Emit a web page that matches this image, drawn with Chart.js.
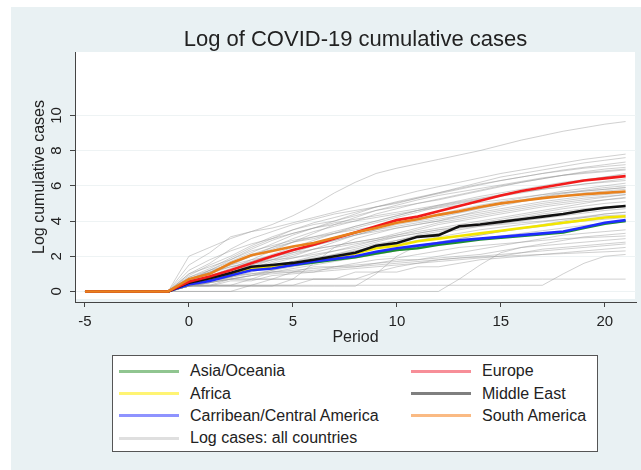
<!DOCTYPE html>
<html>
<head>
  <meta charset="utf-8">
  <title>Log of COVID-19 cumulative cases</title>
  <script src="https://cdn.jsdelivr.net/npm/chart.js"></script>
  <style>
    body { margin: 0; background: #ffffff; font-family: "Liberation Sans", Arial, sans-serif; }
    #frame { position: absolute; left: 11px; top: 7px; width: 630px; height: 463px; background: #e9f1f3; }
    #frame canvas { position: absolute; left: 0; top: 0; }
    #legend {
      position: absolute; left: 101px; top: 348px; width: 486px; height: 97px;
      box-sizing: border-box; background: #ffffff; border: 1px solid #555555;
      padding: 4px 0 0 6px;
      display: grid; grid-template-columns: 292px auto; grid-auto-rows: 22.4px;
    }
    .item { display: flex; align-items: center; font-size: 16px; color: #222222; white-space: nowrap; }
    .swatch { display: inline-block; width: 60px; height: 3px; margin-right: 11px; }
  </style>
</head>
<body>
  <div id="frame">
    <canvas id="myChart" width="630" height="463"></canvas>
    <div id="legend"></div>
  </div>

  <script>
    // periods (x values)
    var periods = [-5,-4,-3,-2,-1,0,1,2,3,4,5,6,7,8,9,10,11,12,13,14,15,16,17,18,19,20,21];
    var xTicks = [-5, 0, 5, 10, 15, 20];
    var yTicks = [0, 2, 4, 6, 8, 10];

    // regional averages
    var asiaOceania  = [0,0,0,0, 0,0.45,0.65,0.9,1.3,1.35,1.5,1.65,1.8,1.95,2.15,2.35,2.45,2.65,2.8,2.95,3.05,3.15,3.25,3.35,3.6,3.85,4.0];
    var africa       = [0,0,0,0, 0,0.4,0.65,0.9,1.3,1.4,1.6,1.75,1.95,2.15,2.45,2.6,2.85,3.0,3.15,3.3,3.45,3.6,3.75,3.9,4.05,4.2,4.27];
    var carribean    = [0,0,0,0, 0,0.4,0.6,0.9,1.2,1.3,1.5,1.7,1.85,2.0,2.25,2.45,2.6,2.75,2.9,3.0,3.1,3.2,3.3,3.4,3.65,3.9,4.05];
    var europe       = [0,0,0,0, 0,0.55,0.85,1.2,1.6,2.0,2.35,2.65,3.0,3.35,3.7,4.05,4.25,4.55,4.85,5.15,5.45,5.7,5.9,6.1,6.3,6.42,6.55];
    var middleEast   = [0,0,0,0, 0,0.5,0.75,1.05,1.4,1.5,1.62,1.8,2.0,2.2,2.6,2.75,3.1,3.2,3.7,3.8,3.95,4.1,4.25,4.4,4.6,4.75,4.85];
    var southAmerica = [0,0,0,0, 0,0.7,1.0,1.6,2.05,2.3,2.55,2.75,3.05,3.35,3.6,3.9,4.1,4.35,4.55,4.8,5.0,5.15,5.3,5.42,5.52,5.6,5.68];

    // log cases, individual countries
    var countries = [
      [0,0,0,0, 0,2.0,2.5,3.0,3.4,3.8,4.3,4.9,5.6,6.2,6.7,7.0,7.25,7.5,7.75,8.0,8.3,8.6,8.85,9.1,9.3,9.5,9.65],
      [0,0,0,0, 0,1.5,2.2,3.1,3.4,3.6,3.9,4.2,4.5,4.8,5.1,5.4,5.7,5.95,6.2,6.45,6.7,6.9,7.1,7.3,7.5,7.65,7.8],
      [0,0,0,0, 0,1.0,1.6,2.4,3.0,3.4,3.8,4.1,4.4,4.6,4.8,5.0,5.3,5.6,5.9,6.2,6.5,6.7,6.9,7.1,7.3,7.45,7.6],
      [0,0,0,0, 0,0.8,1.3,1.9,2.5,3.0,3.5,3.9,4.2,4.5,4.8,5.05,5.3,5.55,5.8,6.05,6.3,6.5,6.7,6.9,7.05,7.2,7.35],
      [0,0,0,0, 0,0.7,1.2,1.7,2.2,2.7,3.2,3.6,4.0,4.4,4.8,5.1,5.35,5.6,5.85,6.1,6.3,6.5,6.7,6.85,7.0,7.1,7.2],
      [0,0,0,0, 0,0.9,1.5,2.0,2.6,3.1,3.5,3.8,4.0,4.3,4.6,4.8,5.0,5.2,5.45,5.7,5.95,6.2,6.4,6.6,6.8,6.95,7.05],
      [0,0,0,0, 0,0.6,1.1,1.6,2.0,2.5,3.0,3.4,3.7,4.0,4.4,4.7,5.0,5.25,5.5,5.75,6.0,6.2,6.4,6.6,6.75,6.85,6.95],
      [0,0,0,0, 0,0.5,0.9,1.3,1.8,2.3,2.8,3.3,3.8,4.2,4.6,4.9,5.2,5.45,5.65,5.85,6.05,6.25,6.45,6.6,6.7,6.8,6.9],
      [0,0,0,0, 0,1.2,1.8,2.3,2.7,3.0,3.3,3.6,3.9,4.1,4.3,4.5,4.7,4.9,5.1,5.3,5.5,5.7,5.9,6.1,6.3,6.5,6.7],
      [0,0,0,0, 0,0.6,1.0,1.5,2.0,2.4,2.8,3.1,3.4,3.7,4.0,4.3,4.6,4.9,5.15,5.4,5.6,5.8,6.0,6.2,6.35,6.5,6.6],
      [0,0,0,0, 0,0.7,1.1,1.6,2.1,2.5,2.8,3.0,3.3,3.6,3.9,4.2,4.5,4.8,5.0,5.2,5.4,5.6,5.8,5.95,6.1,6.25,6.4],
      [0,0,0,0, 0,0.4,0.8,1.2,1.7,2.1,2.5,2.9,3.3,3.7,4.0,4.3,4.6,4.85,5.05,5.25,5.45,5.65,5.8,5.95,6.1,6.2,6.3],
      [0,0,0,0, 0,0.5,0.8,1.1,1.5,1.9,2.3,2.7,3.0,3.3,3.6,3.9,4.15,4.4,4.65,4.9,5.1,5.3,5.5,5.7,5.85,6.0,6.15],
      [0,0,0,0, 0,1.0,1.4,1.8,2.3,2.6,2.9,3.1,3.3,3.5,3.7,3.9,4.1,4.3,4.5,4.75,5.0,5.2,5.4,5.6,5.75,5.9,6.0],
      [0,0,0,0, 0,0.4,0.7,1.0,1.4,1.8,2.2,2.6,2.9,3.2,3.5,3.8,4.0,4.2,4.45,4.7,4.95,5.15,5.35,5.55,5.7,5.8,5.9],
      [0,0,0,0, 0,0.6,1.0,1.4,1.7,2.0,2.3,2.6,2.9,3.2,3.4,3.6,3.8,4.0,4.3,4.6,4.85,5.1,5.3,5.45,5.6,5.7,5.8],
      [0,0,0,0, 0,0.3,0.6,0.9,1.3,1.7,2.0,2.4,2.8,3.2,3.5,3.7,3.9,4.1,4.3,4.5,4.7,4.9,5.1,5.25,5.4,5.5,5.6],
      [0,0,0,0, 0,0.5,0.9,1.2,1.5,1.8,2.1,2.4,2.6,2.8,3.0,3.3,3.6,3.9,4.1,4.3,4.5,4.7,4.9,5.05,5.2,5.35,5.5],
      [0,0,0,0, 0,0.8,1.2,1.5,1.8,2.0,2.2,2.4,2.6,2.8,3.0,3.2,3.4,3.6,3.8,4.0,4.2,4.4,4.6,4.8,5.0,5.2,5.35],
      [0,0,0,0, 0,0.3,0.5,0.8,1.1,1.4,1.7,2.0,2.3,2.6,2.9,3.2,3.5,3.8,4.0,4.2,4.4,4.6,4.8,4.95,5.1,5.2,5.3],
      [0,0,0,0, 0,0.4,0.7,1.0,1.3,1.6,1.9,2.2,2.5,2.7,2.9,3.1,3.3,3.5,3.7,3.9,4.1,4.3,4.5,4.7,4.85,5.0,5.1],
      [0,0,0,0, 0,0.5,0.8,1.0,1.2,1.4,1.6,1.8,2.0,2.3,2.6,2.9,3.2,3.4,3.6,3.8,4.0,4.2,4.4,4.55,4.7,4.8,4.9],
      [0,0,0,0, 0,0.3,0.5,0.7,0.9,1.2,1.5,1.8,2.1,2.4,2.7,2.9,3.1,3.3,3.5,3.7,3.85,4.0,4.15,4.3,4.45,4.6,4.7],
      [0,0,0,0, 0,0.6,0.9,1.1,1.3,1.5,1.7,1.9,2.1,2.3,2.5,2.7,2.9,3.1,3.3,3.5,3.65,3.8,3.95,4.1,4.25,4.4,4.5],
      [0,0,0,0, 0,0.4,0.6,0.8,1.0,1.2,1.4,1.6,1.8,2.0,2.2,2.4,2.6,2.8,3.0,3.2,3.4,3.55,3.7,3.85,4.0,4.1,4.2],
      [0,0,0,0, 0,0.3,0.5,0.7,0.9,1.1,1.3,1.5,1.7,1.9,2.1,2.3,2.5,2.7,2.85,3.0,3.15,3.3,3.45,3.6,3.75,3.85,3.95],
      [0,0,0,0, 0,0.7,0.7,0.7,0.7,0.7,1.1,1.1,1.4,1.4,1.6,1.8,1.8,2.0,2.2,2.4,2.6,2.8,3.0,3.2,3.3,3.4,3.5],
      [0,0,0,0, 0,0.35,0.35,0.7,0.7,1.1,1.1,1.4,1.4,1.6,1.8,1.9,2.1,2.3,2.5,2.6,2.7,2.8,2.9,3.0,3.05,3.1,3.15],
      [0,0,0,0, 0,0.5,0.7,0.9,1.0,1.1,1.2,1.3,1.4,1.5,1.6,1.7,1.8,1.9,2.0,2.1,2.3,2.5,2.6,2.7,2.8,2.9,3.0],
      [0,0,0,0, 0,0.3,0.3,0.6,0.6,0.9,1.0,1.1,1.2,1.3,1.4,1.5,1.6,1.7,1.8,1.9,2.0,2.2,2.4,2.5,2.6,2.7,2.8],
      [0,0,0,0, 0,0,0,0,0.35,0.35,0.35,0.7,0.7,0.7,1.1,1.4,1.6,1.8,1.9,2.0,2.1,2.2,2.3,2.4,2.5,2.6,2.7],
      [0,0,0,0, 0,0.35,0.35,0.35,0.35,0.7,0.7,0.7,0.7,1.1,1.1,1.1,1.4,1.4,1.6,1.8,1.9,2.0,2.1,2.2,2.3,2.4,2.5],
      [0,0,0,0, 0,0.35,0.35,0.35,0.35,0.35,0.35,0.35,0.35,0.35,0.35,0.35,0.35,0.35,0.35,0.35,0.35,0.35,0.35,1.0,1.6,2.0,2.1],
      [0,0,0,0, 0,0.35,0.35,0.35,0.7,0.7,0.7,0.7,0.7,0.7,0.7,0.7,0.7,0.7,0.7,0.7,0.7,0.7,0.7,0.7,0.7,0.7,0.7],
      [0,0,0,0, 0,0.3,0.3,0.3,0.3,0.3,0.3,0.3,0.3,0.3,1.0,2.0,2.6,2.8,3.0,3.2,3.4,3.6,3.8,4.0,4.2,4.4,4.5],
      [0,0,0,0, 0,0,0,0,0,0,0,0,0,0,0,0,0,0,0.7,1.5,2.2,2.5,2.7,2.9,3.1,3.2,3.3],
      [0,0,0,0, 0,0.3,0.5,0.7,0.9,1.0,1.1,1.2,1.3,1.4,1.5,1.6,1.7,1.8,1.9,1.95,2.0,2.05,2.1,2.15,2.2,2.25,2.3],
      [0,0,0,0, 0,0.7,1.1,1.4,1.6,1.8,1.9,2.1,2.3,2.5,2.8,3.1,3.3,3.5,3.6,3.7,3.8,3.9,4.0,4.1,4.2,4.3,4.35],
      [0,0,0,0, 0,0.3,0.3,0.3,0.3,0.3,0.7,1.6,2.5,3.0,3.3,3.6,3.8,4.0,4.2,4.4,4.6,4.8,5.0,5.15,5.3,5.4,5.5],
      [0,0,0,0, 0,0.6,1.2,1.8,2.4,2.9,3.3,3.6,3.8,4.0,4.2,4.4,4.6,4.75,4.9,5.05,5.2,5.35,5.5,5.6,5.7,5.8,5.9]
    ];

    function points(values) {
      return values.map(function (v, i) { return { x: periods[i], y: v }; });
    }

    var regions = [
      { label: 'Asia/Oceania', values: asiaOceania, color: '#1f8f2f', key: 'rgba(34,139,34,0.5)', order: 5 },
      { label: 'Europe', values: europe, color: '#f21b1b', key: 'rgba(240,30,50,0.5)', order: 1 },
      { label: 'Africa', values: africa, color: '#f2e600', key: 'rgba(255,235,0,0.55)', order: 4 },
      { label: 'Middle East', values: middleEast, color: '#111111', key: 'rgba(0,0,0,0.5)', order: 2 },
      { label: 'Carribean/Central America', values: carribean, color: '#1f2bff', key: 'rgba(30,40,255,0.5)', order: 3 },
      { label: 'South America', values: southAmerica, color: '#e8821e', key: 'rgba(245,130,30,0.55)', order: 0 }
    ];

    var datasets = regions.map(function (r) {
      return { label: r.label, data: points(r.values), borderColor: r.color, borderWidth: 2.6, order: r.order };
    });
    countries.forEach(function (c) {
      datasets.push({ label: 'Log cases: all countries', data: points(c), borderColor: 'rgba(150,150,150,0.45)', borderWidth: 1, order: 10 });
    });

    var font = 'Liberation Sans';

    // white plot region like stata
    var plotBackground = {
      id: 'plotBackground',
      beforeDraw: function (chart) {
        var a = chart.chartArea;
        var c = chart.ctx;
        c.save();
        c.fillStyle = '#ffffff';
        c.fillRect(a.left, a.top, a.right - a.left - 1, a.bottom - a.top - 3);
        c.restore();
      }
    };

    // y tick labels turned 90 degrees (stata style)
    var verticalTickLabels = {
      id: 'verticalTickLabels',
      afterDraw: function (chart) {
        var y = chart.scales.y;
        var c = chart.ctx;
        c.save();
        c.fillStyle = '#222222';
        c.font = '15px "' + font + '"';
        c.textAlign = 'center';
        c.textBaseline = 'middle';
        y.ticks.forEach(function (t) {
          c.save();
          c.translate(chart.chartArea.left - 18, y.getPixelForValue(t.value));
          c.rotate(-Math.PI / 2);
          c.fillText(String(t.value), 0, 0);
          c.restore();
        });
        c.restore();
      }
    };

    var ctx = document.getElementById('myChart').getContext('2d');
    var myChart = new Chart(ctx, {
      type: 'line',
      data: { datasets: datasets },
      plugins: [plotBackground, verticalTickLabels],
      options: {
        responsive: false,
        animation: false,
        layout: { padding: { left: 10, right: 5, top: 0, bottom: 118 } },
        elements: { point: { radius: 0 }, line: { tension: 0 } },
        plugins: {
          legend: { display: false },
          tooltip: { enabled: false },
          title: {
            display: true,
            text: 'Log of COVID-19 cumulative cases',
            fullSize: false,
            color: '#222222',
            font: { family: font, size: 22, weight: 'normal', lineHeight: 1 },
            padding: { top: 22, bottom: 1 }
          }
        },
        scales: {
          x: {
            type: 'linear',
            min: -5.48,
            max: 21.5,
            afterBuildTicks: function (s) { s.ticks = xTicks.map(function (v) { return { value: v }; }); },
            afterFit: function (s) { s.height = 50; },
            grid: { drawOnChartArea: false, tickLength: 5, tickColor: '#444444' },
            border: { color: '#444444' },
            ticks: { color: '#222222', font: { family: font, size: 15 }, padding: 6, maxRotation: 0 },
            title: { display: true, text: 'Period', color: '#222222', font: { family: font, size: 16 }, padding: { top: 0, bottom: 4.4 } }
          },
          y: {
            min: -0.6,
            max: 13.6,
            afterBuildTicks: function (s) { s.ticks = yTicks.map(function (v) { return { value: v }; }); },
            afterFit: function (s) { s.width = 54; },
            grid: { color: '#eef3f4', tickLength: 5, tickColor: '#444444' },
            border: { color: '#444444' },
            ticks: { display: false },
            title: { display: true, text: 'Log cumulative cases', color: '#222222', font: { family: font, size: 16 }, padding: { top: 9.4, bottom: 0 } }
          }
        }
      }
    });

    // legend box, two columns filled row by row
    var legendItems = regions.map(function (r) { return { label: r.label, key: r.key }; });
    legendItems.push({ label: 'Log cases: all countries', key: 'rgba(150,150,150,0.3)' });
    var legend = document.getElementById('legend');
    legendItems.forEach(function (it) {
      var div = document.createElement('div');
      div.className = 'item';
      var sw = document.createElement('span');
      sw.className = 'swatch';
      sw.style.background = it.key;
      div.appendChild(sw);
      div.appendChild(document.createTextNode(it.label));
      legend.appendChild(div);
    });
  </script>
</body>
</html>
